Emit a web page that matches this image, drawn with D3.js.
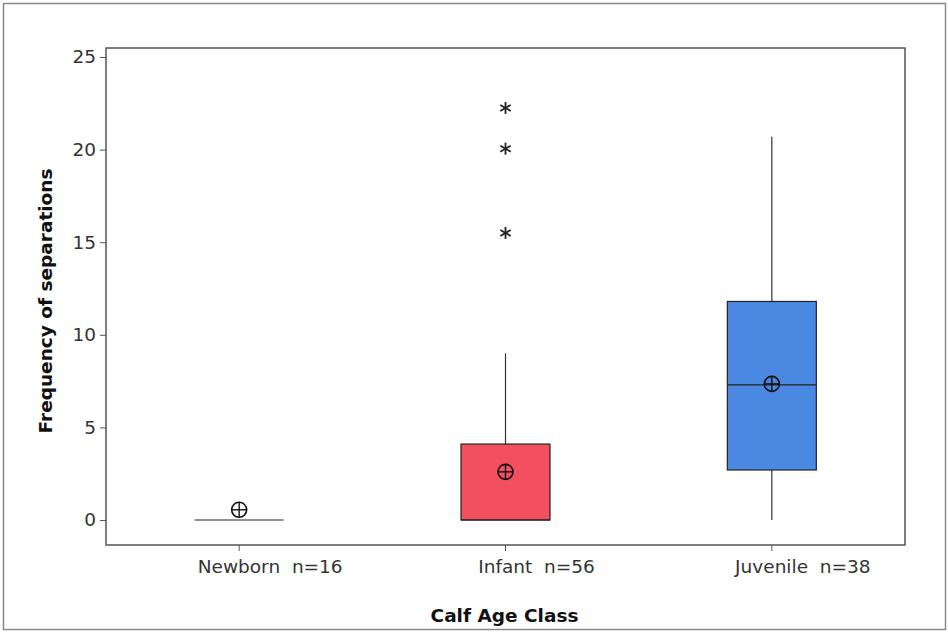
<!DOCTYPE html>
<html><head><meta charset="utf-8">
<script src="https://cdn.jsdelivr.net/npm/d3@7"></script>
<style>body{margin:0;background:#fff}</style>
</head><body>
<svg id="c" width="948" height="632"></svg>
<script>
const categories = ["Newborn  n=16", "Infant  n=56", "Juvenile  n=38"];
const q1 = [0, 0, 2.7];
const medians = [0, 0, 7.3];
const q3 = [0, 4.1, 11.8];
const whiskerLow = [0, 0, 0];
const whiskerHigh = [0, 9.0, 20.7];
const means = [0.55, 2.6, 7.35];
const outliers = [[], [15.5, 20.05, 22.25], []];
const boxColors = ["#ffffff", "#f2505e", "#4a88e2"];
const yTicks = [0, 5, 10, 15, 20, 25];

const svg = d3.select("#c");
const font = "'DejaVu Sans', sans-serif";
svg.append("rect").attr("x", 3.5).attr("y", 3.5).attr("width", 942).attr("height", 626)
  .attr("fill", "none").attr("stroke", "#8a8a8a").attr("stroke-width", 1.5);

const L = 106, R = 905, T = 48, B = 545;
const x = d3.scaleBand().domain(categories).range([L, R]).padding(0);
const y = d3.scaleLinear().domain([0, 25]).range([520, 57]);
const bw = 89;

svg.append("rect").attr("x", L).attr("y", T).attr("width", R - L).attr("height", B - T)
  .attr("fill", "none").attr("stroke", "#555").attr("stroke-width", 1.5);

const yAxis = svg.append("g").attr("transform", `translate(${L},0)`)
  .call(d3.axisLeft(y).tickValues(yTicks).tickSize(6).tickPadding(4));
yAxis.select(".domain").remove();
yAxis.selectAll("line").attr("stroke", "#555");
yAxis.selectAll("text").attr("font-family", font).attr("font-size", 18.5).attr("fill", "#333");

const xAxis = svg.append("g").attr("transform", `translate(0,${B})`)
  .call(d3.axisBottom(x).tickSize(6).tickPadding(5));
xAxis.select(".domain").remove();
xAxis.selectAll("line").attr("stroke", "#555");
xAxis.selectAll("text").attr("font-family", font).attr("font-size", 18.5).attr("fill", "#333")
  .attr("dy", "0.9em").attr("dx", 31).style("white-space", "pre");

categories.forEach((c, i) => {
  const cx = x(c) + x.bandwidth() / 2;
  const g = svg.append("g");
  g.append("line").attr("x1", cx).attr("x2", cx).attr("y1", y(q3[i])).attr("y2", y(whiskerHigh[i]))
    .attr("stroke", "#333").attr("stroke-width", 1.2);
  g.append("line").attr("x1", cx).attr("x2", cx).attr("y1", y(q1[i])).attr("y2", y(whiskerLow[i]))
    .attr("stroke", "#333").attr("stroke-width", 1.2);
  if (q3[i] > q1[i]) {
    g.append("rect").attr("x", cx - bw / 2).attr("y", y(q3[i])).attr("width", bw)
      .attr("height", y(q1[i]) - y(q3[i])).attr("fill", boxColors[i])
      .attr("stroke", "#222").attr("stroke-width", 1.2);
  }
  g.append("line").attr("x1", cx - bw / 2).attr("x2", cx + bw / 2)
    .attr("y1", y(medians[i])).attr("y2", y(medians[i])).attr("stroke", "#222").attr("stroke-width", 1.2);
  const my = y(means[i]);
  g.append("circle").attr("cx", cx).attr("cy", my).attr("r", 7.5).attr("fill", "none")
    .attr("stroke", "#111").attr("stroke-width", 1.6);
  g.append("line").attr("x1", cx - 7.5).attr("x2", cx + 7.5).attr("y1", my).attr("y2", my).attr("stroke", "#111").attr("stroke-width", 1.4);
  g.append("line").attr("x1", cx).attr("x2", cx).attr("y1", my - 7.5).attr("y2", my + 7.5).attr("stroke", "#111").attr("stroke-width", 1.4);
  outliers[i].forEach(v => {
    const oy = y(v);
    for (let k = 0; k < 3; k++) {
      const a = Math.PI / 2 + k * Math.PI / 3;
      const dx = 6 * Math.cos(a), dy = 6 * Math.sin(a);
      g.append("line").attr("x1", cx - dx).attr("x2", cx + dx).attr("y1", oy - dy).attr("y2", oy + dy)
        .attr("stroke", "#222").attr("stroke-width", 1.8);
    }
  });
});

svg.append("text").attr("x", (L + R) / 2 - 1).attr("y", 622).attr("text-anchor", "middle")
  .attr("font-family", font).attr("font-weight", "bold").attr("font-size", 18.5).attr("fill", "#111")
  .text("Calf Age Class");
svg.append("text").attr("transform", "translate(52,301) rotate(-90)").attr("text-anchor", "middle")
  .attr("font-family", font).attr("font-weight", "bold").attr("font-size", 18.5).attr("fill", "#111")
  .text("Frequency of separations");
</script>
</body></html>
